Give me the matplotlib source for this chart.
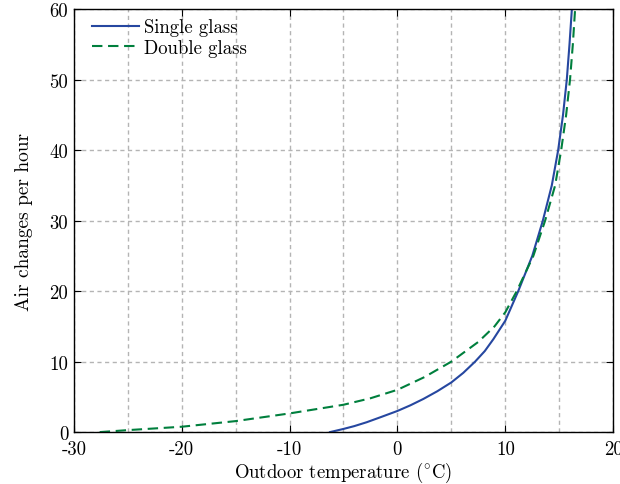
import matplotlib
matplotlib.use('Agg')
import matplotlib.pyplot as plt
from matplotlib.ticker import MultipleLocator

# values
single_temp = [-6.25, -5, -4, -2.85, -1.5, 0, 1.2, 2.4, 3.7, 5, 6.1, 7.2, 8.1, 8.9, 10,
               11.2, 12.5, 13.48, 14.31, 14.9, 15.35, 15.7, 15.95, 16.17]
single_ach = [0, 0.45, 0.85, 1.4, 2.15, 3.0, 3.8, 4.7, 5.8, 7.05, 8.4, 10, 11.5, 13.2, 15.8,
              20, 25, 30, 35, 40, 45, 50, 55, 60]

double_temp = [-27.6, -25, -20, -15, -10, -5, -2.5, 0, 2.5, 5, 7.5, 9, 10,
               11.06, 12.6, 13.69, 14.62, 15.18, 15.64, 16.0, 16.26, 16.47]
double_ach = [0, 0.28, 0.76, 1.56, 2.65, 3.88, 4.8, 6.0, 7.8, 10, 12.8, 15.0, 17,
              20, 25, 30, 35, 40, 45, 50, 55, 60]

plt.rcParams['font.family'] = 'serif'
plt.rcParams['font.serif'] = ['cmr10']
plt.rcParams['mathtext.fontset'] = 'cm'
plt.rcParams['axes.unicode_minus'] = False
plt.rcParams['axes.formatter.use_mathtext'] = False

fig = plt.figure(figsize=(6.2, 4.85), dpi=100)
ax = fig.add_axes([0.119, 0.107, 0.870, 0.872])

ax.plot(single_temp, single_ach, color='#2647a0', lw=1.5, label='Single glass')
ax.plot(double_temp, double_ach, color='#007f3d', lw=1.5, ls=(0, (5, 2.7)), label='Double glass')

ax.set_xlim(-30, 20)
ax.set_ylim(0, 60)
ax.xaxis.set_major_locator(MultipleLocator(10))
ax.xaxis.set_minor_locator(MultipleLocator(5))
ax.yaxis.set_major_locator(MultipleLocator(10))

grid_style = dict(color='#b4b4b4', ls=(0, (3, 2.5)), lw=1.0)
ax.grid(True, which='major', **grid_style)
ax.grid(True, which='minor', axis='x', **grid_style)
ax.tick_params(which='major', direction='in', top=True, right=True, length=5, width=0.8,
               labelsize=13.5, pad=4)
ax.tick_params(axis='x', which='major', pad=6)
ax.tick_params(which='minor', length=0)
for s in ax.spines.values():
    s.set_linewidth(1.0)

ax.set_xlabel(r'Outdoor temperature ($^{\circ}$C)', fontsize=13.5, labelpad=1)
ax.set_ylabel('Air changes per hour', fontsize=14, labelpad=12)

ax.legend(loc='upper left', bbox_to_anchor=(0.0167, 1.0), frameon=False, fontsize=13.5,
          handlelength=2.5, handletextpad=0.27, labelspacing=0.15,
          borderaxespad=0.2, borderpad=0.28)

fig.savefig('out.png', dpi=100)
